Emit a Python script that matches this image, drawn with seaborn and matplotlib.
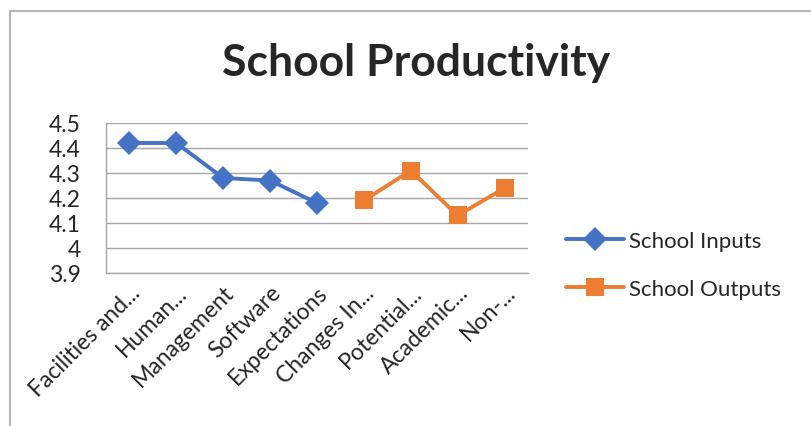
import matplotlib
matplotlib.use("Agg")
import matplotlib.pyplot as plt
import seaborn as sns
import pandas as pd
from matplotlib.patches import Rectangle

categories = ["Facilities and...", "Human...", "Management", "Software", "Expectations",
              "Changes In...", "Potential...", "Academic...", "Non-..."]
inputs_cats = categories[:5]
inputs_vals = [4.42, 4.42, 4.28, 4.27, 4.18]
outputs_cats = categories[5:]
outputs_vals = [4.19, 4.31, 4.13, 4.24]
yticks = [3.9, 4.0, 4.1, 4.2, 4.3, 4.4, 4.5]
ytick_labels = ["3.9", "4", "4.1", "4.2", "4.3", "4.4", "4.5"]

sns.set_theme(style="white")
plt.rcParams['font.family'] = ['Lato', 'DejaVu Sans']

df = pd.DataFrame({
    "cat": inputs_cats + outputs_cats,
    "val": inputs_vals + outputs_vals,
    "series": ["School Inputs"] * len(inputs_cats) + ["School Outputs"] * len(outputs_cats),
})
pos = {c: i for i, c in enumerate(categories)}
df["x"] = df["cat"].map(pos)

fig = plt.figure(figsize=(8.11, 4.27), dpi=100)
ax = fig.add_axes([106/811, 1-274/427, 422/811, 150/427])

sns.lineplot(data=df, x="x", y="val", hue="series", style="series",
             markers={"School Inputs": "D", "School Outputs": "s"}, dashes=False,
             palette={"School Inputs": "#4472C4", "School Outputs": "#ED7D31"},
             linewidth=2.8, markersize=12.5, markeredgewidth=0, ax=ax)

ax.set_xlim(-0.5, len(categories) - 0.5)
ax.set_ylim(3.9, 4.5)
ax.set_yticks(yticks)
ax.set_yticklabels(ytick_labels, fontsize=16.5)
ax.set_xticks(range(len(categories)))
ax.set_xticklabels(categories, rotation=45, ha="right", rotation_mode="anchor", fontsize=16.5)
ax.tick_params(axis="y", length=0, pad=18)
ax.tick_params(axis="x", length=0, pad=6)
ax.grid(axis="y", color="#A6A6A6", linewidth=1)
for s in ["top", "right"]:
    ax.spines[s].set_visible(False)
for s in ["left", "bottom"]:
    ax.spines[s].set_color("#A6A6A6")
    ax.spines[s].set_linewidth(1)
ax.set_xlabel("")
ax.set_ylabel("")

leg = ax.legend(loc="center left", bbox_to_anchor=(1.07, 0.053), borderaxespad=0,
                frameon=False, fontsize=16, handlelength=2.6, labelspacing=1.25,
                handletextpad=0.2)

fig.text(0.513, 1-63/427, "School Productivity", ha="center", va="center",
         fontsize=32, fontweight="bold")

fig.patches.append(Rectangle((10/811, -0.1), 2.0, 1.1 - 12/427,
                             transform=fig.transFigure, fill=False,
                             edgecolor="#A6A6A6", linewidth=1.2))

fig.savefig("out.png", dpi=100)
